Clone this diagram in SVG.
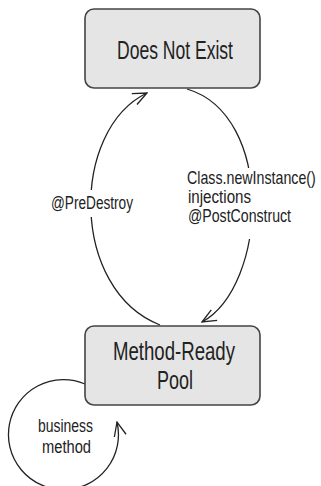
<svg xmlns="http://www.w3.org/2000/svg" width="321" height="486" viewBox="0 0 321 486">
<style>
.box{fill:#e5e5e5;stroke:#444;stroke-width:1.6}
.t{font-family:"Liberation Sans Narrow","Liberation Sans",sans-serif;fill:#222}
.big{font-size:26px}
.lbl{font-size:18px}
.edge{fill:none;stroke:#222;stroke-width:1.3}
</style>
<defs>
<marker id="arr" markerUnits="userSpaceOnUse" markerWidth="16" markerHeight="14" viewBox="0 0 16 14" refX="15" refY="7" orient="auto">
<path d="M1,1 L15,7 L1,13" fill="none" stroke="#222" stroke-width="1.3"/>
</marker>
<mask id="gaps" maskUnits="userSpaceOnUse" x="0" y="0" width="321" height="486">
<rect x="0" y="0" width="321" height="486" fill="#fff"/>
<rect x="232" y="168" width="45" height="71" fill="#000"/>
<rect x="72" y="190" width="36" height="27" fill="#000"/>
</mask>
</defs>
<g id="connectors" mask="url(#gaps)">
<path id="e-create" class="edge" d="M187,89 C275,115 268,285 202,322" marker-end="url(#arr)"/>
<path id="e-destroy" class="edge" d="M160,325 C70,290 70,130 147,93" marker-end="url(#arr)"/>
<path id="e-business" class="edge" d="M85,384 A55,55 0 1 0 117,422" marker-end="url(#arr)"/>
</g>
<g id="labels">
<text class="t lbl" transform="translate(187,184) scale(0.79,1)" x="0" y="0">Class.newInstance()</text>
<text class="t lbl" x="188" y="203" textLength="63" lengthAdjust="spacingAndGlyphs">injections</text>
<text class="t lbl" x="188" y="222" textLength="103" lengthAdjust="spacingAndGlyphs">@PostConstruct</text>
<text class="t lbl" x="51" y="209" textLength="82" lengthAdjust="spacingAndGlyphs">@PreDestroy</text>
<text class="t lbl" x="38" y="432" textLength="55" lengthAdjust="spacingAndGlyphs">business</text>
<text class="t lbl" x="42" y="453" textLength="49" lengthAdjust="spacingAndGlyphs">method</text>
</g>
<g id="does-not-exist">
<rect class="box" x="85" y="9" width="175" height="79" rx="9"/>
<text class="t big" x="117" y="59" textLength="116" lengthAdjust="spacingAndGlyphs">Does Not Exist</text>
</g>
<g id="method-ready-pool">
<rect class="box" x="85" y="326" width="175" height="79" rx="9"/>
<text class="t big" x="113" y="360" textLength="122" lengthAdjust="spacingAndGlyphs">Method-Ready</text>
<text class="t big" x="157" y="389" textLength="36" lengthAdjust="spacingAndGlyphs">Pool</text>
</g>
</svg>
